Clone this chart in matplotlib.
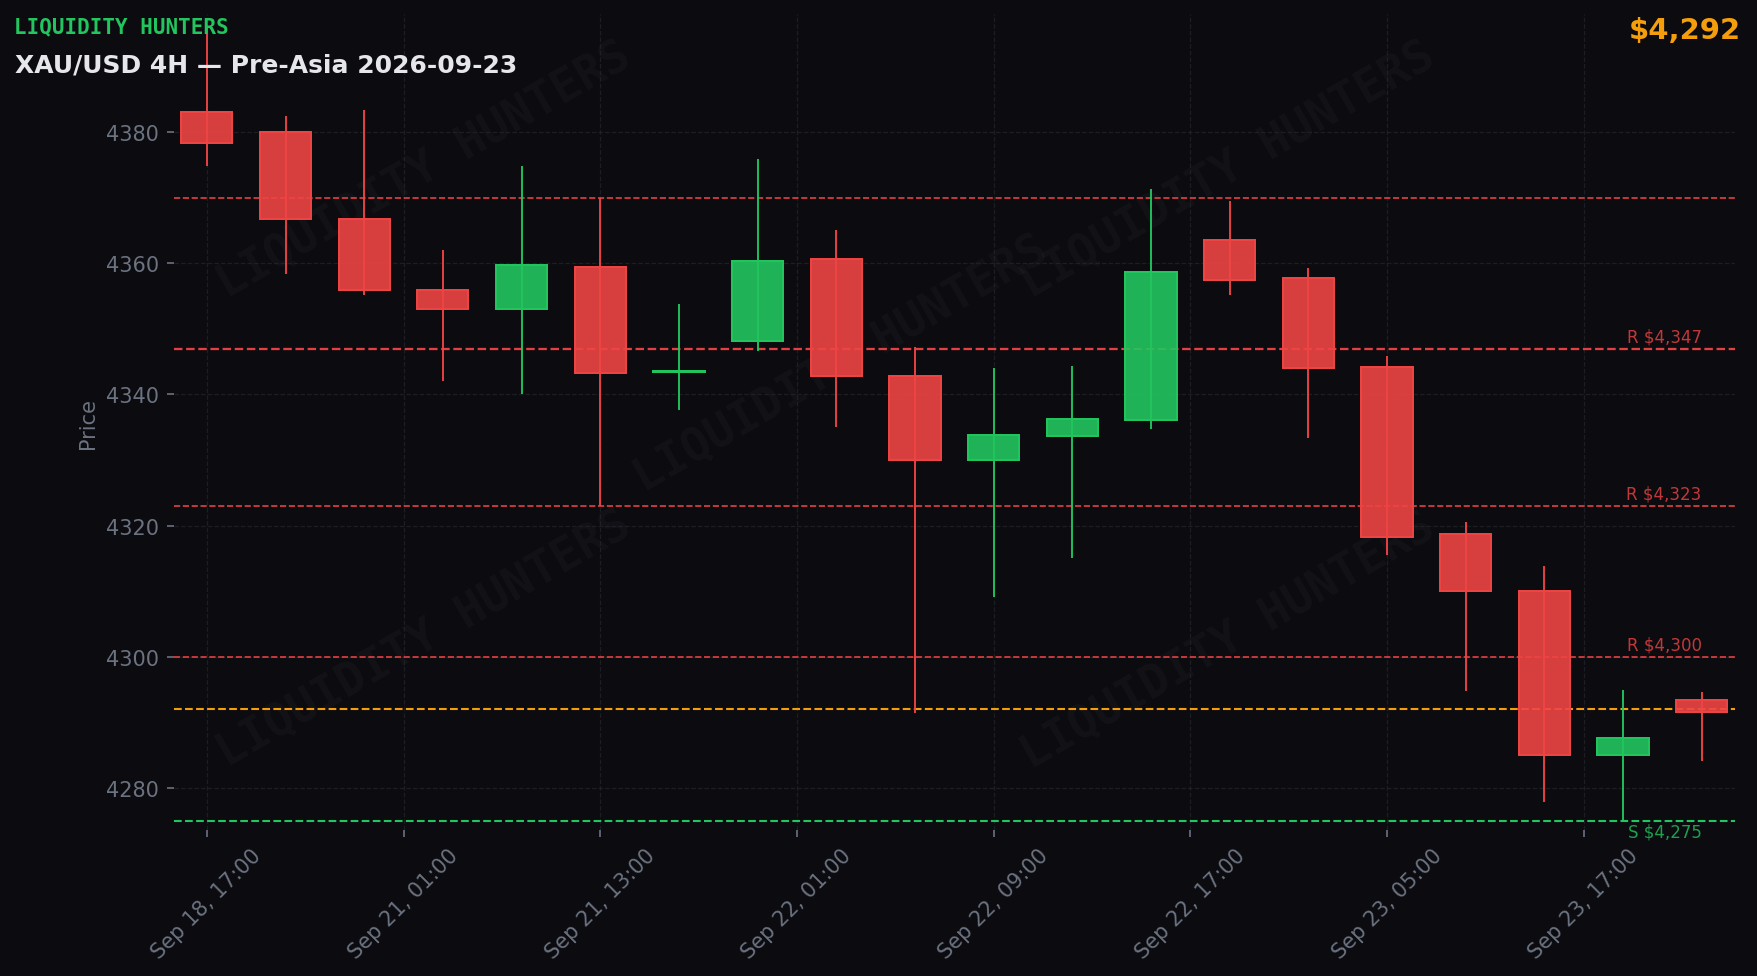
import matplotlib
matplotlib.use("Agg")
import matplotlib.pyplot as plt
from matplotlib.patches import Rectangle
import numpy as np

# 4H candles, Sep 18 17:00 -> Sep 23 21:00 (weekend skipped)
times = ["Sep 18, 17:00", "Sep 18, 21:00", "Sep 21, 01:00", "Sep 21, 05:00",
         "Sep 21, 09:00", "Sep 21, 13:00", "Sep 21, 17:00", "Sep 21, 21:00",
         "Sep 22, 01:00", "Sep 22, 05:00", "Sep 22, 09:00", "Sep 22, 13:00",
         "Sep 22, 17:00", "Sep 22, 21:00", "Sep 23, 01:00", "Sep 23, 05:00",
         "Sep 23, 09:00", "Sep 23, 13:00", "Sep 23, 17:00", "Sep 23, 21:00"]
opens = [4383.0, 4380.0, 4366.8, 4356.0, 4353.1, 4359.5, 4343.4, 4348.1, 4360.6, 4342.8,
         4330.0, 4333.7, 4336.1, 4363.6, 4357.7, 4344.2, 4318.7, 4310.1, 4285.0, 4293.4]
highs = [4395.8, 4382.4, 4383.3, 4362.0, 4374.8, 4369.9, 4353.8, 4375.9, 4365.1, 4347.3,
         4344.0, 4344.3, 4371.3, 4369.5, 4359.3, 4345.9, 4320.6, 4313.8, 4295.0, 4294.7]
lows = [4374.8, 4358.4, 4355.2, 4342.0, 4340.1, 4323.0, 4337.6, 4346.7, 4335.0, 4291.5,
        4309.1, 4315.1, 4334.7, 4355.2, 4333.4, 4315.5, 4294.8, 4277.8, 4275.0, 4284.2]
closes = [4378.3, 4366.7, 4355.9, 4353.1, 4359.7, 4343.3, 4343.6, 4360.4, 4342.8, 4330.0,
          4333.8, 4336.3, 4358.6, 4357.5, 4344.1, 4318.3, 4310.0, 4285.0, 4287.6, 4291.6]

swing_high = 4370
resistance = [4347, 4323, 4300]
support = [4275]
price = 4292

BG = "#0b0b10"
RED = "#ef4444"
GREEN = "#22c55e"
AMBER = "#f59e0b"
GRAY = "#6b7280"

plt.rcParams["font.family"] = "DejaVu Sans"
fig = plt.figure(figsize=(17.58 / 1.5, 9.77 / 1.5), dpi=150, facecolor=BG)
ax = fig.add_axes([0.0989, 0.1494, 0.8883, 0.8352], facecolor=BG)

n = len(opens)
x = np.arange(n)
w = 0.65
for i in range(n):
    o, h, l, c = opens[i], highs[i], lows[i], closes[i]
    col = GREEN if c >= o else RED
    ax.vlines(x[i], l, h, color=col, lw=0.9, zorder=3)
    lo, hi = min(o, c), max(o, c)
    ax.add_patch(Rectangle((x[i] - w / 2, lo), w, max(hi - lo, 0.15),
                           facecolor=col, alpha=0.9, edgecolor=col, lw=0.9, zorder=4))
    ax.add_patch(Rectangle((x[i] - w / 2, lo), w, max(hi - lo, 0.15),
                           facecolor="none", edgecolor=col, lw=0.9, zorder=4))

# levels
ax.axhline(swing_high, color=RED, ls="--", lw=0.8, alpha=0.95, zorder=2)
for lv in resistance:
    lw = 1.1 if lv == resistance[0] else 0.8
    ax.axhline(lv, color=RED, ls="--", lw=lw, alpha=0.95, zorder=2)
    ax.text(n - 1, lv + 0.5, f"R ${lv:,.0f}", color=RED, alpha=0.8, fontsize=8,
            ha="right", va="bottom", zorder=5)
for lv in support:
    ax.axhline(lv, color=GREEN, ls="--", lw=1.0, zorder=2)
    ax.text(n - 1, lv - 0.2, f"S ${lv:,.0f}", color=GREEN, alpha=0.8, fontsize=8,
            ha="right", va="top", zorder=5)
ax.axhline(price, color=AMBER, ls="--", lw=1.0, zorder=2)

# watermark
for wx, wy in [(0.16, 0.81), (0.427, 0.572), (0.675, 0.81), (0.16, 0.235), (0.675, 0.232)]:
    ax.text(wx, wy, "LIQUIDITY HUNTERS", transform=ax.transAxes, family="DejaVu Sans Mono",
            fontweight="bold", fontsize=22, color="white", alpha=0.03, rotation=30,
            ha="center", va="center", zorder=1)

ax.set_xlim(-0.42, 19.43)
ax.set_ylim(4273.6, 4398)
ax.set_yticks(np.arange(4280, 4381, 20))
ticks = np.arange(0, n, 2.5)
ax.set_xticks(ticks)
ax.set_xticklabels([times[int(round(t))] for t in ticks], rotation=45)
ax.tick_params(colors=GRAY, labelsize=10)
ax.set_ylabel("Price", color=GRAY, fontsize=10)
ax.grid(True, color="#2a2b33", ls="--", lw=0.6, alpha=0.6)
for s in ax.spines.values():
    s.set_visible(False)

fig.text(0.008, 0.9662, "LIQUIDITY HUNTERS", color=GREEN, family="DejaVu Sans Mono",
         fontweight="bold", fontsize=10, ha="left", va="baseline")
fig.text(0.0085, 0.9256, "XAU/USD 4H \u2014 Pre-Asia 2026-09-23", color="#e5e7eb",
         fontweight="bold", fontsize=12, ha="left", va="baseline")
fig.text(0.9902, 0.9598, f"${price:,.0f}", color=AMBER, fontweight="bold", fontsize=14,
         ha="right", va="baseline")

fig.savefig("out.png", dpi=150, facecolor=BG)
